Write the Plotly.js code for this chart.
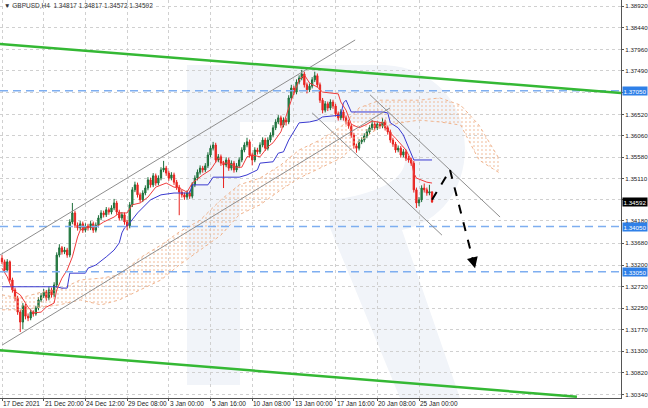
<!DOCTYPE html>
<html><head><meta charset="utf-8">
<script src="https://cdn.plot.ly/plotly-3.0.1.min.js"></script>
<style>html,body{margin:0;padding:0;background:#fff}</style>
</head><body><div id="chart" style="width:648px;height:408px"></div>
<script>
// ---- Candles (H4, GBPUSD) ----
const openP = [1.3335,1.3327,1.3309,1.3327,1.3287,1.3265,1.3247,1.3216,1.3194,1.3230,
 1.3207,1.3203,1.3216,1.3212,1.3225,1.3243,1.3252,1.3260,1.3247,1.3265,
 1.3254,1.3276,1.3342,1.3358,1.3349,1.3353,1.3342,1.3415,1.3435,1.3408,
 1.3402,1.3411,1.3397,1.3406,1.3402,1.3411,1.3397,1.3408,1.3424,1.3435,
 1.3431,1.3442,1.3437,1.3446,1.3457,1.3437,1.3424,1.3431,1.3415,1.3406,
 1.3453,1.3486,1.3497,1.3475,1.3464,1.3479,1.3490,1.3508,1.3497,1.3517,
 1.3501,1.3512,1.3530,1.3534,1.3523,1.3512,1.3519,1.3503,1.3492,1.3481,
 1.3475,1.3470,1.3479,1.3472,1.3497,1.3512,1.3525,1.3534,1.3530,1.3539,
 1.3563,1.3578,1.3585,1.3552,1.3559,1.3545,1.3541,1.3552,1.3534,1.3545,
 1.3530,1.3539,1.3552,1.3574,1.3585,1.3592,1.3563,1.3552,1.3574,1.3570,
 1.3585,1.3596,1.3578,1.3596,1.3607,1.3623,1.3636,1.3645,1.3629,1.3640,
 1.3636,1.3689,1.3711,1.3702,1.3724,1.3733,1.3742,1.3718,1.3707,1.3715,
 1.3729,1.3738,1.3718,1.3684,1.3662,1.3676,1.3667,1.3680,1.3671,1.3654,
 1.3645,1.3658,1.3645,1.3636,1.3627,1.3607,1.3583,1.3578,1.3592,1.3596,
 1.3605,1.3614,1.3623,1.3631,1.3623,1.3631,1.3627,1.3636,1.3623,1.3614,
 1.3596,1.3587,1.3574,1.3578,1.3563,1.3570,1.3556,1.3552,1.3545,1.3486,
 1.3457,1.3464,1.3490,1.3486,1.3479,1.34817];
const highP = [1.3342,1.3332,1.3333,1.3330,1.3292,1.3270,1.3252,1.3221,1.3236,1.3234,
 1.3213,1.3222,1.3220,1.3230,1.3249,1.3258,1.3267,1.3265,1.3271,1.3270,
 1.3282,1.3348,1.3366,1.3362,1.3360,1.3358,1.3421,1.3457,1.3440,1.3414,
 1.3417,1.3416,1.3412,1.3411,1.3417,1.3416,1.3414,1.3430,1.3441,1.3440,
 1.3448,1.3447,1.3452,1.3466,1.3462,1.3442,1.3437,1.3436,1.3420,1.3459,
 1.3492,1.3504,1.3502,1.3480,1.3485,1.3496,1.3514,1.3513,1.3523,1.3522,
 1.3518,1.3536,1.3550,1.3539,1.3528,1.3525,1.3524,1.3508,1.3497,1.3486,
 1.3480,1.3485,1.3484,1.3503,1.3518,1.3531,1.3540,1.3539,1.3545,1.3569,
 1.3584,1.3592,1.3590,1.3565,1.3564,1.3550,1.3558,1.3557,1.3551,1.3550,
 1.3545,1.3558,1.3580,1.3591,1.3601,1.3597,1.3568,1.3580,1.3579,1.3591,
 1.3602,1.3601,1.3602,1.3613,1.3629,1.3642,1.3651,1.3650,1.3646,1.3645,
 1.3695,1.3718,1.3716,1.3730,1.3739,1.3751,1.3747,1.3723,1.3721,1.3735,
 1.3747,1.3743,1.3723,1.3689,1.3682,1.3681,1.3686,1.3685,1.3676,1.3659,
 1.3664,1.3663,1.3650,1.3641,1.3632,1.3612,1.3588,1.3598,1.3602,1.3611,
 1.3620,1.3629,1.3640,1.3636,1.3637,1.3636,1.3645,1.3641,1.3628,1.3619,
 1.3601,1.3592,1.3584,1.3583,1.3576,1.3575,1.3561,1.3557,1.3550,1.3491,
 1.3470,1.3496,1.3500,1.3491,1.3497,1.34817];
const lowP = [1.3322,1.3303,1.3305,1.3282,1.3259,1.3240,1.3210,1.3172,1.3178,1.3200,
 1.3196,1.3198,1.3206,1.3208,1.3220,1.3238,1.3247,1.3241,1.3242,1.3248,
 1.3249,1.3270,1.3337,1.3343,1.3344,1.3336,1.3337,1.3410,1.3402,1.3396,
 1.3397,1.3391,1.3392,1.3396,1.3397,1.3391,1.3392,1.3403,1.3419,1.3425,
 1.3426,1.3431,1.3432,1.3441,1.3431,1.3418,1.3419,1.3409,1.3397,1.3401,
 1.3448,1.3481,1.3469,1.3458,1.3459,1.3474,1.3485,1.3491,1.3492,1.3495,
 1.3496,1.3507,1.3525,1.3517,1.3506,1.3507,1.3497,1.3486,1.3430,1.3469,
 1.3464,1.3465,1.3466,1.3467,1.3492,1.3507,1.3520,1.3524,1.3525,1.3534,
 1.3558,1.3573,1.3546,1.3547,1.3539,1.3490,1.3536,1.3528,1.3529,1.3524,
 1.3525,1.3534,1.3547,1.3569,1.3580,1.3557,1.3540,1.3547,1.3564,1.3565,
 1.3580,1.3572,1.3573,1.3591,1.3602,1.3618,1.3631,1.3623,1.3624,1.3628,
 1.3631,1.3684,1.3696,1.3697,1.3719,1.3728,1.3712,1.3699,1.3702,1.3710,
 1.3724,1.3712,1.3678,1.3655,1.3657,1.3660,1.3662,1.3665,1.3648,1.3639,
 1.3640,1.3639,1.3630,1.3621,1.3601,1.3577,1.3568,1.3573,1.3587,1.3591,
 1.3600,1.3609,1.3618,1.3617,1.3618,1.3621,1.3622,1.3617,1.3608,1.3590,
 1.3581,1.3568,1.3569,1.3557,1.3558,1.3550,1.3546,1.3539,1.3480,1.3446,
 1.3450,1.3459,1.3480,1.3473,1.3474,1.34572];
const closeP = [1.3327,1.3309,1.3327,1.3287,1.3265,1.3247,1.3216,1.3194,1.3230,1.3207,
 1.3203,1.3216,1.3212,1.3225,1.3243,1.3252,1.3260,1.3247,1.3265,1.3254,
 1.3276,1.3342,1.3358,1.3349,1.3353,1.3342,1.3415,1.3435,1.3408,1.3402,
 1.3411,1.3397,1.3406,1.3402,1.3411,1.3397,1.3408,1.3424,1.3435,1.3431,
 1.3442,1.3437,1.3446,1.3457,1.3437,1.3424,1.3431,1.3415,1.3406,1.3453,
 1.3486,1.3497,1.3475,1.3464,1.3479,1.3490,1.3508,1.3497,1.3517,1.3501,
 1.3512,1.3530,1.3534,1.3523,1.3512,1.3519,1.3503,1.3492,1.3481,1.3475,
 1.3470,1.3479,1.3472,1.3497,1.3512,1.3525,1.3534,1.3530,1.3539,1.3563,
 1.3578,1.3585,1.3552,1.3559,1.3545,1.3541,1.3552,1.3534,1.3545,1.3530,
 1.3539,1.3552,1.3574,1.3585,1.3592,1.3563,1.3552,1.3574,1.3570,1.3585,
 1.3596,1.3578,1.3596,1.3607,1.3623,1.3636,1.3645,1.3629,1.3640,1.3636,
 1.3689,1.3711,1.3702,1.3724,1.3733,1.3742,1.3718,1.3707,1.3715,1.3729,
 1.3738,1.3718,1.3684,1.3662,1.3676,1.3667,1.3680,1.3671,1.3654,1.3645,
 1.3658,1.3645,1.3636,1.3627,1.3607,1.3583,1.3578,1.3592,1.3596,1.3605,
 1.3614,1.3623,1.3631,1.3623,1.3631,1.3627,1.3636,1.3623,1.3614,1.3596,
 1.3587,1.3574,1.3578,1.3563,1.3570,1.3556,1.3552,1.3545,1.3486,1.3457,
 1.3464,1.3490,1.3486,1.3479,1.34817,1.34592];
const barIndex = closeP.map((_, i) => i);

// ---- Axis ticks ----
const tickIdx = [0,16,32,48,64,80,96,112,128,144,160];
const tickLabels = ['17 Dec 2021','21 Dec 20:00','24 Dec 12:00','29 Dec 08:00','3 Jan 00:00','5 Jan 16:00','10 Jan 08:00','13 Jan 00:00','17 Jan 16:00','20 Jan 08:00','25 Jan 00:00'];
const priceTicks = [1.38920,1.38440,1.37960,1.37490,1.37010,1.36520,1.36060,1.35580,1.35110,1.34640,1.34180,1.33680,1.33200,1.32720,1.32250,1.31770,1.31300,1.30820,1.30340];
const hiddenTicks = [1.37010, 1.34640]; // covered by the highlighted price boxes

// ---- Ichimoku lines ----
const tenkanIdx = [0,2,4,7,10,12,15,17,20,21,23,25,27,29,30,33,36,39,43,45,48,50,53,56,59,63,66,68,71,73,77,80,83,85,87,90,92,94,96,99,102,104,107,109,111,114,116,118,121,123,126,129,130,132,134,137,140,142,146,148,151,155,157,158,159,163,165];
const tenkanVal = [1.3313,1.3294,1.3265,1.3254,1.3227,1.3214,1.3216,1.3227,1.3236,1.3265,1.3291,1.3309,1.3338,1.3382,1.3397,1.3404,1.3404,1.3415,1.3426,1.3435,1.3435,1.3453,1.3457,1.3470,1.3492,1.3501,1.3492,1.3490,1.3481,1.3501,1.3519,1.3530,1.3556,1.3545,1.3545,1.3536,1.3536,1.3559,1.3563,1.3559,1.3581,1.3590,1.3614,1.3651,1.3684,1.3729,1.3740,1.3722,1.3713,1.3702,1.3700,1.3698,1.3680,1.3662,1.3631,1.3623,1.3631,1.3638,1.3634,1.3618,1.3600,1.3574,1.3552,1.3523,1.3512,1.3503,1.3501];
const kijunIdx = [0,21,23,25,26,32,33,36,40,43,45,46,47,49,52,54,57,61,66,72,73,79,81,91,94,98,99,104,106,108,110,114,118,121,123,130,131,132,133,134,146,148,149,152,154,156,158,165];
const kijunVal = [1.3272,1.3272,1.3269,1.3269,1.3302,1.3302,1.3313,1.3320,1.3338,1.3353,1.3369,1.3391,1.3402,1.3413,1.3435,1.3446,1.3464,1.3475,1.3479,1.3479,1.3497,1.3497,1.3514,1.3514,1.3519,1.3530,1.3545,1.3548,1.3567,1.3570,1.3596,1.3634,1.3636,1.3640,1.3647,1.3651,1.3678,1.3684,1.3669,1.3658,1.3658,1.3656,1.3634,1.3623,1.3607,1.3581,1.3552,1.3552];
const cloudIdx = [0,7,15,22,30,38,45,53,61,68,76,84,91,99,107,114,122,130,137,145,153,160,168,176,183,191];
const cloudUpper = [1.3254,1.3247,1.3260,1.3265,1.3287,1.3291,1.3298,1.3336,1.3364,1.3393,1.3419,1.3464,1.3497,1.3512,1.3541,1.3574,1.3596,1.3625,1.3667,1.3684,1.3684,1.3684,1.3689,1.3673,1.3629,1.3552];
const cloudLower = [1.3221,1.3221,1.3227,1.3232,1.3243,1.3232,1.3243,1.3265,1.3287,1.3320,1.3353,1.3386,1.3431,1.3453,1.3486,1.3512,1.3534,1.3556,1.3592,1.3625,1.3634,1.3640,1.3636,1.3629,1.3552,1.3523];

// ---- Drawn analysis objects ----
const levels = [1.37050, 1.34050, 1.33050];
const lastPrice = 1.34592;
const greenTopIdx = [-0.8, 237.5], greenTopVal = [1.3808, 1.3700];
const greenBotIdx = [-0.8, 220.6], greenBotVal = [1.3132, 1.3029];
const chanUpIdx = [-0.8, 135.5], chanUpVal = [1.3342, 1.3817];
const chanLowIdx = [0, 148.9], chanLowVal = [1.3143, 1.3667];
const downUpIdx = [141.2, 191.1], downUpVal = [1.3696, 1.3426];
const downLowIdx = [119, 168.8], downLowVal = [1.3656, 1.3386];
const arrowIdx = [165, 171.9, 181.5], arrowVal = [1.3464, 1.3530, 1.3313];

const FONT = 'Liberation Sans, Arial, sans-serif';
const FS = 6.2;
const W = 621, H = 398;
function pp(s){return s.replace(/(-?\d+(?:\.\d+)?),(-?\d+(?:\.\d+)?)/g,(m,a,b)=>(a/W).toFixed(4)+','+(1-b/H).toFixed(4));}

const traces = [
  {x: cloudIdx, y: cloudLower, type:'scatter', mode:'lines', line:{color:'#f0b48e', width:1, dash:'dot'}, hoverinfo:'skip'},
  {x: cloudIdx, y: cloudUpper, type:'scatter', mode:'lines', line:{color:'#f0b48e', width:1, dash:'dot'}, fill:'tonexty',
   fillcolor:'rgba(0,0,0,0)', fillpattern:{shape:'.', fgcolor:'#eeae86', bgcolor:'rgba(255,255,255,0)', size:4, solidity:0.12}, hoverinfo:'skip'},
  {x: kijunIdx, y: kijunVal, type:'scatter', mode:'lines', line:{color:'#3a3ad0', width:1}, hoverinfo:'skip'},
  {x: tenkanIdx, y: tenkanVal, type:'scatter', mode:'lines', line:{color:'#f03c3c', width:1}, hoverinfo:'skip'},
  {x: barIndex, open: openP, high: highP, low: lowP, close: closeP, type:'candlestick',
   increasing:{line:{color:'#1d6e3a', width:1}, fillcolor:'#25914b'},
   decreasing:{line:{color:'#e8231f', width:1}, fillcolor:'#ec2b25'}, whiskerwidth:0, hoverinfo:'skip'}
];

function seg(xs, ys, color, width, dash){
  return {type:'line', xref:'x', yref:'y', x0:xs[0], y0:ys[0], x1:xs[1], y1:ys[1], line:{color, width, dash: dash||'solid'}};
}
const WM = '#f1f4f9';
const shapes = [
  {type:'path', xref:'paper', yref:'paper', layer:'below', fillcolor:WM, line:{width:0}, path: pp('M187,65 L240,65 L240,385 L187,385 Z')},
  {type:'path', xref:'paper', yref:'paper', layer:'below', fillcolor:WM, line:{width:0},
   path: pp('M240,65 L380,65 C432,65 465,102 465,148 C465,190 440,222 402,230 L460,398 L400,398 L330,228 L330,200 C375,195 405,180 405,160 C405,138 385,122 360,122 L240,122 Z')},
  ...levels.map(v => ({type:'line', xref:'paper', yref:'y', x0:0, x1:1, y0:v, y1:v, line:{color:'#7eaef0', width:1.5, dash:'8px,5px'}})),
  seg(chanUpIdx, chanUpVal, '#8e8e8e', 1),
  seg(chanLowIdx, chanLowVal, '#8e8e8e', 1),
  seg(downUpIdx, downUpVal, '#8e8e8e', 1),
  seg(downLowIdx, downLowVal, '#8e8e8e', 1),
  seg(greenTopIdx, greenTopVal, '#34b834', 2.5),
  seg(greenBotIdx, greenBotVal, '#34b834', 2.5),
  seg([arrowIdx[0], arrowIdx[1]], [arrowVal[0], arrowVal[1]], '#000', 2, 'dash'),
  seg([arrowIdx[1], arrowIdx[2]], [arrowVal[1], arrowVal[2]], '#000', 2, 'dash')
];

function head(i){
  const x0 = arrowIdx[i-1], y0 = arrowVal[i-1], x1 = arrowIdx[i], y1 = arrowVal[i];
  return {x:x1, y:y1, xref:'x', yref:'y', ax: x1-(x1-x0)*0.12, ay: y1-(y1-y0)*0.12, axref:'x', ayref:'y',
    showarrow:true, arrowhead:2, arrowsize:1.1, arrowwidth:2, arrowcolor:'#000', text:''};
}
const annotations = [
  {x:0.004, y:0.999, xref:'paper', yref:'paper', xanchor:'left', yanchor:'top', showarrow:false,
   text:'▼ GBPUSD,H4  1.34817 1.34817 1.34572 1.34592', font:{family:FONT, size:6.5, color:'#333'}},
  ...levels.map(v => ({x:1, y:v, xref:'paper', yref:'y', xanchor:'left', yanchor:'middle', xshift:1, showarrow:false,
    text: v.toFixed(5), bgcolor:'#2f80e8', borderpad:0.5, font:{family:FONT, size:FS, color:'#fff'}})),
  {x:1, y:lastPrice, xref:'paper', yref:'y', xanchor:'left', yanchor:'middle', xshift:1, showarrow:false,
    text: lastPrice.toFixed(5), bgcolor:'#000', borderpad:0.5, font:{family:FONT, size:FS, color:'#fff'}},
  ...tickIdx.map((t, k) => ({x:t, y:0, xref:'x', yref:'paper', xanchor:'left', yanchor:'top', xshift:0, yshift:-1,
    showarrow:false, text: tickLabels[k], borderpad:0, font:{family:FONT, size:6.5, color:'#222'}})),
  head(1), head(2)
];

const layout = {
  width:648, height:408, margin:{l:0, r:27, t:0, b:10, pad:0},
  paper_bgcolor:'#fff', plot_bgcolor:'#fff', showlegend:false, dragmode:false,
  font:{family:FONT, size:6.5, color:'#222'},
  xaxis:{range:[-0.77, 237.5], tickmode:'array', tickvals:tickIdx, showticklabels:false,
    ticks:'outside', ticklen:2, tickcolor:'#555', showline:true, linecolor:'#555', linewidth:1,
    showgrid:true, gridcolor:'#d0d0d0', griddash:'dot', zeroline:false, rangeslider:{visible:false},
    fixedrange:true, automargin:false},
  yaxis:{side:'right', range:[1.30263, 1.39053], tickmode:'array', tickvals:priceTicks,
    ticktext:priceTicks.map(v => hiddenTicks.includes(v) ? '' : v.toFixed(5)),
    ticks:'outside', ticklen:2, tickcolor:'#555', showline:true, linecolor:'#555', linewidth:1,
    showgrid:true, gridcolor:'#d0d0d0', griddash:'dot', zeroline:false,
    tickfont:{family:FONT, size:FS, color:'#222'}, fixedrange:true, automargin:false},
  shapes, annotations
};
Plotly.newPlot('chart', traces, layout, {displayModeBar:false, staticPlot:true});
</script></body></html>
